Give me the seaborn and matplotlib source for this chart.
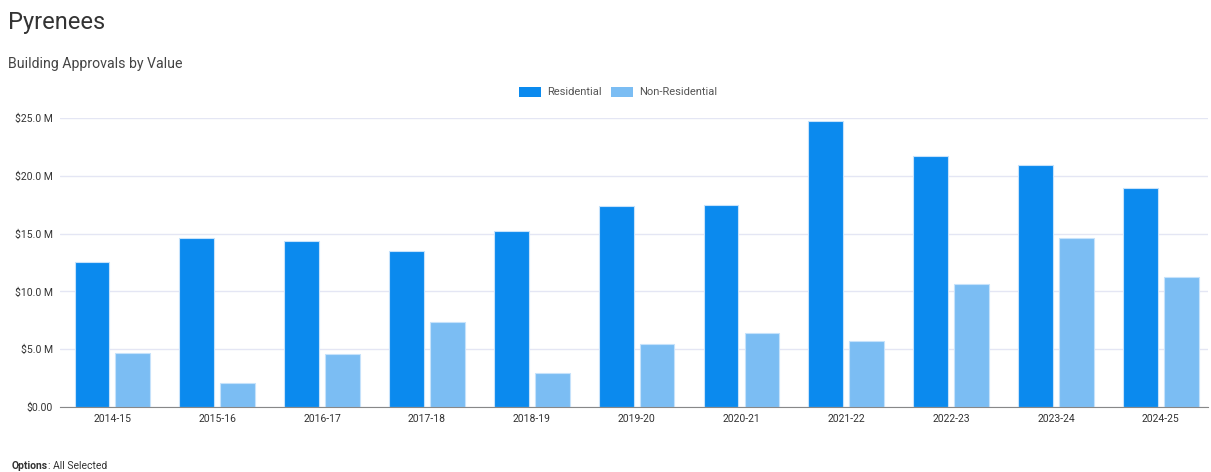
import matplotlib
matplotlib.use("Agg")
import matplotlib.pyplot as plt
import seaborn as sns
import pandas as pd
from matplotlib.ticker import FuncFormatter
from matplotlib.patches import FancyBboxPatch

years = ['2014-15', '2015-16', '2016-17', '2017-18', '2018-19', '2019-20',
         '2020-21', '2021-22', '2022-23', '2023-24', '2024-25']
residential = [12.55, 14.62, 14.38, 13.5, 15.22, 17.4, 17.47, 24.75, 21.7, 20.93, 18.95]
non_residential = [4.67, 2.08, 4.58, 7.35, 2.94, 5.45, 6.4, 5.71, 10.64, 14.62, 11.25]

df = pd.DataFrame({'year': years * 2,
                   'value': residential + non_residential,
                   'type': ['Residential'] * len(years) + ['Non-Residential'] * len(years)})

sns.set_style('white')
plt.rcParams['font.family'] = ['Roboto', 'DejaVu Sans']

fig = plt.figure(figsize=(12.11, 4.72), dpi=100)
ax = fig.add_axes([60 / 1211, 65 / 472, 1148 / 1211, 289 / 472])

palette = {'Residential': '#0b8aee', 'Non-Residential': '#7bbdf3'}
sns.barplot(data=df, x='year', y='value', hue='type', palette=palette,
            width=0.78, gap=0.15, saturation=1, edgecolor='#c6e2fb',
            linewidth=0.8, ax=ax, legend=False)

ax.set_ylim(0, 25)
ax.set_xlim(-0.5, 10.45)
ax.set_yticks([0, 5, 10, 15, 20, 25])
ax.yaxis.set_major_formatter(FuncFormatter(
    lambda v, p: '\\$0.00' if v == 0 else '\\${:.1f} M'.format(v)))
ax.grid(axis='y', color='#e4e6f4', linewidth=1)
ax.set_axisbelow(True)
for s in ['top', 'right', 'left']:
    ax.spines[s].set_visible(False)
ax.spines['bottom'].set_color('#888888')
ax.set_xlabel('')
ax.set_ylabel('')
ax.tick_params(axis='both', which='major', length=0, labelsize=7.5,
               labelcolor='#333333', pad=5)
ax.set_xticks([0, 5, 10], minor=True)
ax.tick_params(axis='x', which='minor', length=4, color='#888888')

# legend with rounded patches
fig.legend(handles=[FancyBboxPatch((0, 0), 1, 1, boxstyle='round,pad=0.1',
                                   facecolor=palette[k], edgecolor='none', label=k)
                    for k in palette],
           loc='center', bbox_to_anchor=(618 / 1211, 1 - 92 / 472), ncol=2,
           frameon=False, fontsize=8, handlelength=2.0, handleheight=1.0,
           handletextpad=0.5, columnspacing=0.9, labelcolor='#555555')

fig.text(8 / 1211, 1 - 22 / 472, 'Pyrenees', fontsize=17, color='#333333', va='center')
fig.text(8 / 1211, 1 - 64 / 472, 'Building Approvals by Value', fontsize=10.2,
         color='#444444', va='center')
opt = fig.text(12 / 1211, 1 - 466 / 472, 'Options', fontsize=7.5, fontweight='bold',
               color='#333333', va='center')
bb = opt.get_window_extent(renderer=fig.canvas.get_renderer())
fig.text(bb.x1 / 1211, 1 - 466 / 472, ': All Selected', fontsize=7.5,
         color='#333333', va='center')

fig.savefig('out.png', dpi=100, facecolor='white')
